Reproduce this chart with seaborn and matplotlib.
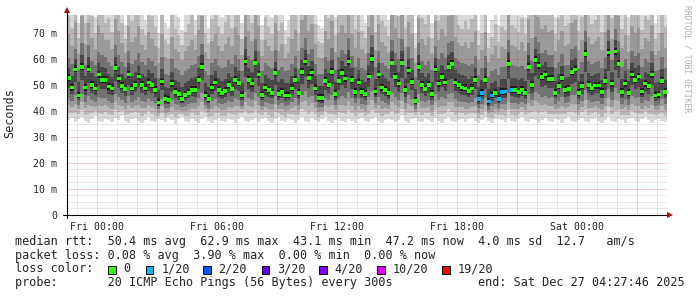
import numpy as np
import pandas as pd
import matplotlib
matplotlib.use("Agg")
import matplotlib.pyplot as plt
import seaborn as sns
from matplotlib.patches import Rectangle

# ---------------- data (10-minute steps, hours relative to Fri 00:00) ----------------
START_H = -1.5
STEP_H = 1 / 6

median_ms = [
    52.6, 49, 56, 46, 57, 49, 56, 50, 48.7, 54, 52, 52,
    49.4, 48.7, 56.5, 52.5, 49.6, 48.5, 54, 48.7, 50, 53.2, 50, 48.7,
    51, 50, 48, 43.3, 51.3, 44.5, 44.2, 50.5, 47.4, 46.5, 44.6, 46.2,
    47, 48.1, 48.1, 52, 57, 46, 44.5, 49, 51, 48, 47, 47.7,
    50, 48.5, 52, 50.8, 46, 59, 52, 50.5, 58.5, 54, 46.2, 49,
    48, 47, 54.5, 46.5, 47.4, 46, 46, 48.7, 52, 46.8, 55, 59,
    52.6, 54.8, 48.7, 45, 44.9, 51.6, 50, 55, 46.5, 51.6, 54.5, 52.5,
    59, 51.8, 47.4, 51, 47.4, 46.5, 53.2, 60, 47.5, 54, 49, 48,
    46.8, 58.5, 53, 50.5, 58.5, 48, 55.5, 51.2, 43.8, 57, 50, 48.4,
    50, 46.5, 56, 50.5, 53, 51, 57, 58, 51, 50, 49, 48.7,
    47.7, 48.7, 52, 44.5, 47, 52, 43.6, 46, 47, 44.5, 47.4, 47.5,
    58, 48.1, 48, 47.3, 48, 47, 57, 50, 59.5, 57.5, 53, 54,
    52.3, 52.3, 47, 49.5, 52.6, 48, 48.4, 55, 56, 47, 49.5, 62,
    50, 48.8, 49.8, 49.8, 47.4, 51.5, 62.5, 50.5, 62.9, 58, 47.4, 50.5,
    46.8, 54, 52, 53.2, 47.5, 50.5, 49.5, 54, 46, 46.3, 51.5, 47.2,
]

loss_count = [
    0, 0, 0, 0, 0, 0, 0, 0, 0, 0, 0, 0,
    0, 0, 0, 0, 0, 0, 0, 0, 0, 0, 0, 0,
    0, 0, 0, 0, 0, 0, 0, 0, 0, 0, 0, 0,
    0, 0, 0, 0, 0, 0, 0, 0, 0, 0, 0, 0,
    0, 0, 0, 0, 0, 0, 0, 0, 0, 0, 0, 0,
    0, 0, 0, 0, 0, 0, 0, 0, 0, 0, 0, 0,
    0, 0, 0, 0, 0, 0, 0, 0, 0, 0, 0, 0,
    0, 0, 0, 0, 0, 0, 0, 0, 0, 0, 0, 0,
    0, 0, 0, 0, 0, 0, 0, 0, 0, 0, 0, 0,
    0, 0, 0, 0, 0, 0, 0, 0, 0, 0, 0, 0,
    0, 0, 0, 1, 1, 0, 1, 1, 0, 1, 1, 1,
    0, 1, 0, 0, 0, 0, 0, 0, 0, 0, 0, 0,
    0, 0, 0, 0, 0, 0, 0, 0, 0, 0, 0, 0,
    0, 0, 0, 0, 0, 0, 0, 0, 0, 0, 0, 0,
    0, 0, 0, 0, 0, 0, 0, 0, 0, 0, 0, 0,
]

ping_min = [
    36.5, 37.2, 35.8, 36.9, 37.5, 36.1, 35.4, 36.8, 37.9, 36.2, 35.7, 37.1,
    36.4, 35.9, 37.3, 36.6, 38.0, 36.2, 35.5, 36.9, 37.4, 36.0, 35.3, 36.7,
    37.8, 36.3, 35.6, 37.0, 36.5, 35.8, 37.2, 36.4, 35.1, 36.9, 37.6, 36.2,
    35.8, 37.1, 36.3, 35.5, 36.8, 37.5, 36.0, 35.4, 36.7, 37.3, 36.1, 35.7,
    37.0, 36.4, 35.2, 36.8, 37.7, 36.3, 35.9, 36.6, 37.2, 35.6, 36.9, 37.4,
    36.1, 35.5, 36.8, 37.6, 36.2, 35.8, 37.1, 36.5, 35.3, 36.7, 37.8, 36.0,
    35.6, 37.2, 36.4, 35.9, 36.9, 37.5, 36.2, 35.4, 36.6, 37.3, 36.0, 35.8,
    37.0, 36.3, 35.5, 36.8, 37.4, 36.1, 35.7, 36.9, 37.6, 36.2, 35.3, 36.5,
    37.1, 36.4, 35.8, 36.7, 37.9, 36.0, 35.5, 36.8, 37.2, 36.3, 35.6, 37.0,
    36.5, 35.9, 37.3, 36.1, 35.4, 36.8, 37.5, 36.2, 35.7, 36.6, 37.1, 35.8,
    36.9, 37.4, 36.0, 35.5, 36.7, 37.6, 36.3, 35.2, 36.8, 37.0, 36.4, 35.9,
    37.2, 36.1, 35.6, 36.9, 37.5, 36.2, 35.8, 37.1, 36.5, 35.4, 36.7, 37.3,
    36.0, 35.7, 37.0, 36.4, 35.5, 36.8, 37.7, 36.1, 35.9, 36.6, 37.2, 36.3,
    35.6, 36.9, 37.4, 36.2, 35.3, 36.7, 37.8, 36.0, 35.8, 37.1, 36.5, 35.5,
    36.8, 37.3, 36.1, 35.7, 36.9, 37.6, 36.4, 35.4, 36.6, 37.0, 36.2, 35.9,
]

ping_q1 = [
    45.1, 43.8, 46.2, 42.4, 46.5, 43.5, 45.8, 44.2, 43.6, 45.5, 44.8, 45.0,
    43.9, 43.2, 46.4, 45.3, 44.1, 43.0, 45.6, 43.4, 44.3, 45.2, 44.0, 43.5,
    44.6, 44.0, 43.1, 40.6, 44.5, 41.2, 41.0, 44.1, 42.8, 42.3, 41.4, 42.1,
    42.6, 43.2, 43.0, 44.9, 46.8, 42.2, 41.3, 43.7, 44.6, 43.1, 42.5, 42.9,
    44.0, 43.3, 45.1, 44.4, 42.1, 47.2, 44.8, 44.2, 46.9, 45.5, 42.0, 43.6,
    43.1, 42.6, 45.7, 42.3, 42.9, 41.9, 42.2, 43.5, 45.0, 42.4, 46.1, 47.5,
    45.3, 45.9, 43.6, 41.7, 41.5, 44.8, 44.1, 46.0, 42.3, 44.7, 45.6, 45.0,
    47.3, 44.9, 42.9, 44.5, 42.7, 42.2, 45.4, 47.8, 42.9, 45.5, 43.7, 43.2,
    42.4, 47.0, 45.3, 44.2, 46.8, 43.1, 46.2, 44.6, 40.8, 46.5, 44.0, 43.3,
    44.1, 42.3, 46.4, 44.3, 45.4, 44.6, 46.7, 46.9, 44.5, 44.0, 43.6, 43.5,
    42.9, 43.4, 45.0, 41.1, 42.5, 44.9, 40.5, 41.9, 42.6, 41.3, 42.8, 42.7,
    46.8, 43.2, 43.1, 42.7, 43.3, 42.5, 46.5, 44.2, 47.4, 46.7, 45.3, 45.6,
    45.0, 45.2, 42.6, 43.8, 45.3, 43.1, 43.4, 46.1, 46.3, 42.5, 43.9, 48.2,
    44.2, 43.5, 44.0, 43.9, 42.8, 44.8, 48.5, 44.3, 48.7, 47.0, 42.7, 44.4,
    42.3, 45.6, 45.0, 45.3, 42.9, 44.3, 43.8, 45.7, 42.0, 42.2, 44.7, 42.6,
]

ping_q3 = [
    60.5, 58.2, 64.0, 55.9, 66.1, 57.8, 65.3, 59.4, 57.6, 62.8, 61.5, 60.9,
    58.7, 57.3, 65.2, 61.4, 58.9, 56.8, 63.1, 58.0, 59.6, 62.2, 58.8, 57.5,
    60.3, 59.1, 57.2, 52.8, 60.6, 54.1, 53.7, 59.8, 56.5, 55.9, 54.0, 55.4,
    56.3, 57.6, 57.9, 61.2, 65.8, 55.5, 53.9, 58.4, 60.1, 57.2, 56.4, 57.0,
    59.5, 57.9, 61.7, 60.0, 55.4, 68.3, 61.2, 59.7, 67.6, 63.1, 55.3, 58.4,
    57.4, 56.6, 63.5, 55.8, 56.9, 55.2, 55.7, 58.1, 61.3, 56.0, 64.4, 68.0,
    61.9, 63.8, 58.2, 54.4, 54.3, 60.9, 59.4, 64.2, 55.8, 60.7, 63.6, 61.8,
    68.2, 61.1, 56.8, 60.3, 56.6, 55.9, 62.4, 69.1, 56.9, 63.2, 58.3, 57.4,
    56.1, 67.4, 62.3, 59.8, 67.5, 57.2, 64.6, 60.4, 53.2, 66.0, 59.3, 57.8,
    59.4, 55.9, 65.1, 59.9, 62.1, 60.3, 66.2, 67.0, 60.4, 59.2, 58.5, 58.0,
    57.1, 58.0, 61.3, 53.9, 56.5, 61.1, 53.2, 55.5, 56.3, 54.0, 56.8, 56.9,
    67.1, 57.5, 57.3, 56.8, 57.4, 56.3, 66.0, 59.3, 68.4, 66.5, 62.1, 63.3,
    61.6, 61.4, 56.4, 58.9, 61.8, 57.5, 57.7, 64.0, 65.1, 56.2, 58.7, 70.8,
    59.4, 58.1, 59.0, 59.2, 56.7, 60.8, 71.2, 59.6, 71.5, 67.0, 56.8, 59.9,
    56.2, 63.2, 61.3, 62.4, 56.9, 59.8, 58.7, 63.1, 55.4, 55.8, 60.6, 56.6,
]

ping_max = [
    88, 79, 95, 74, 97, 82, 91, 85, 76, 93, 87, 80,
    84, 77, 96, 89, 81, 73, 92, 83, 86, 94, 78, 75,
    90, 85, 80, 70, 88, 74, 72, 86, 79, 76, 71, 78,
    82, 87, 75, 91, 98, 77, 72, 84, 89, 80, 76, 83,
    86, 79, 93, 88, 74, 99, 90, 81, 97, 92, 73, 85,
    80, 76, 94, 78, 83, 71, 75, 87, 91, 77, 96, 100,
    89, 93, 81, 73, 72, 90, 84, 95, 76, 88, 92, 86,
    98, 87, 79, 90, 78, 74, 92, 100, 77, 94, 83, 80,
    75, 97, 91, 85, 96, 79, 93, 88, 70, 95, 84, 81,
    87, 74, 94, 82, 90, 86, 97, 98, 85, 80, 78, 83,
    79, 84, 90, 71, 77, 89, 70, 75, 82, 73, 80, 78,
    96, 81, 79, 77, 85, 76, 94, 86, 99, 95, 90, 92,
    88, 91, 76, 84, 89, 80, 82, 93, 95, 78, 85, 100,
    86, 81, 83, 87, 77, 90, 100, 84, 100, 96, 79, 88,
    76, 92, 87, 91, 78, 85, 83, 93, 74, 77, 89, 80,
]

y_ticks = [0, 10, 20, 30, 40, 50, 60, 70]
y_tick_labels = ["0", "10 m", "20 m", "30 m", "40 m", "50 m", "60 m", "70 m"]
x_ticks = [0, 6, 12, 18, 24]
x_tick_labels = ["Fri 00:00", "Fri 06:00", "Fri 12:00", "Fri 18:00", "Sat 00:00"]

loss_levels = ["0", "1/20", "2/20", "3/20", "4/20", "10/20", "19/20"]
loss_colors = ["#26ff00", "#00b8ff", "#0059ff", "#5e00ff", "#7e00ff", "#dd00ff", "#ff0000"]
loss_level_of_count = {0: "0", 1: "1/20"}

stats_rtt = "median rtt:  50.4 ms avg  62.9 ms max  43.1 ms min  47.2 ms now  4.0 ms sd  12.7   am/s"
stats_loss = "packet loss: 0.08 % avg  3.90 % max  0.00 % min  0.00 % now"
probe_text = "probe:       20 ICMP Echo Pings (56 Bytes) every 300s"
end_text = "end: Sat Dec 27 04:27:46 2025"

# ---------------- drawing ----------------
sns.set_style("white")
plt.rcParams["font.family"] = ["DejaVu Sans Mono", "DejaVu Sans"]

W, H = 697, 297
fig = plt.figure(figsize=(W / 100, H / 100), dpi=100)
fig.patch.set_facecolor("white")

def fx(px):
    return px / W

def fy(py):
    return 1 - py / H

ax = fig.add_axes([fx(67), fy(215), 600 / W, 200 / H])
ax.set_facecolor("white")

n = len(median_ms)
df = pd.DataFrame({
    "t": START_H + np.arange(n) * STEP_H,
    "median": median_ms,
    "loss": [loss_level_of_count[c] for c in loss_count],
    "lo": ping_min, "q1": ping_q1, "q3": ping_q3, "hi": ping_max,
})

lo = df["lo"].to_numpy(); q1 = df["q1"].to_numpy()
q3 = df["q3"].to_numpy(); hi = df["hi"].to_numpy(); md = df["median"].to_numpy()
lowers = [lo, (2 * lo + q1) / 3, (lo + 2 * q1) / 3, q1, (q1 + md) / 2, md - 1.2]
uppers = [hi, (2 * hi + q3) / 3, (hi + 2 * q3) / 3, q3, (q3 + md) / 2, md + 1.5]
band_colors = ["#d9d9d9", "#b9b9b9", "#9a9a9a", "#727272", "#474747", "#1e1e1e"]
for lw_, up_, c in zip(lowers, uppers, band_colors):
    ax.bar(df["t"], up_ - lw_, bottom=lw_, width=STEP_H, align="edge",
           color=c, linewidth=0, antialiased=False, zorder=1)

sns.scatterplot(data=df.assign(tc=df["t"] + STEP_H / 2), x="tc", y="median",
                hue="loss", palette=dict(zip(loss_levels, loss_colors)),
                marker="s", s=7, linewidth=0, legend=False, ax=ax, zorder=5)

ax.set_xlim(-1.5, 28.5)
ax.set_ylim(0, 76.9)

# grid
for yv in np.arange(2.5, 76.9, 2.5):
    major = abs(yv % 10) < 1e-6
    ax.axhline(yv, color=(0.85, 0.2, 0.2, 0.45) if major else (0.55, 0.55, 0.55, 0.4),
               lw=0.72, ls=(0, (1, 1)), zorder=3)
for xv in range(-1, 29):
    major = xv % 3 == 0
    ax.axvline(xv, color=(0.85, 0.2, 0.2, 0.45) if major else (0.55, 0.55, 0.55, 0.4),
               lw=0.72, ls=(0, (1, 1)), zorder=3)

ax.set_yticks(y_ticks)
ax.set_yticklabels(y_tick_labels)
ax.set_xticks(x_ticks)
ax.set_xticklabels(x_tick_labels)
ax.tick_params(axis="both", which="major", length=3, width=0.72, color="black",
               labelsize=7.1, pad=2, direction="out")
ax.tick_params(axis="y", pad=4)
ax.set_xlabel("")
ax.set_ylabel("")
for s in ["top", "right", "left", "bottom"]:
    ax.spines[s].set_visible(False)

# axis lines with arrows
ax.plot([0, 0], [-0.015, 1.02], transform=ax.transAxes, color="black", lw=0.8,
        clip_on=False, zorder=6)
ax.plot([-0.006, 1.003], [0, 0], transform=ax.transAxes, color="black", lw=0.8,
        clip_on=False, zorder=6)
ax.plot([0], [1.025], marker="^", ms=4.5, color="#9b1010", transform=ax.transAxes,
        clip_on=False, zorder=7, mew=0)
ax.plot([1.005], [0], marker=">", ms=4.5, color="#9b1010", transform=ax.transAxes,
        clip_on=False, zorder=7, mew=0)

fig.text(fx(10), fy(113), "Seconds", rotation=90, ha="center", va="center", fontsize=8.5)
fig.text(fx(687), fy(5), "RRDTOOL / TOBI OETIKER", rotation=270, ha="center", va="top",
         fontsize=5.8, color="#b0b0b0")

FS = 8.5
fig.text(fx(15), fy(241.7), stats_rtt, ha="left", va="center", fontsize=FS)
fig.text(fx(15), fy(255), stats_loss, ha="left", va="center", fontsize=FS)
fig.text(fx(15), fy(269), "loss color:", ha="left", va="center", fontsize=FS)
fig.text(fx(15), fy(282.7), probe_text, ha="left", va="center", fontsize=FS)
fig.text(fx(478), fy(282.7), end_text, ha="left", va="center", fontsize=FS)

box_x = [108, 145.7, 203, 261.7, 319, 377, 442]
for bx, lab, col in zip(box_x, loss_levels, loss_colors):
    fig.patches.append(Rectangle((fx(bx), fy(273.5)), 7.5 / W, 7.5 / H, transform=fig.transFigure,
                                 facecolor=col, edgecolor="black", linewidth=0.7))
    fig.text(fx(bx + 15.5), fy(269), lab, ha="left", va="center", fontsize=FS)

fig.savefig("out.png", dpi=100)
